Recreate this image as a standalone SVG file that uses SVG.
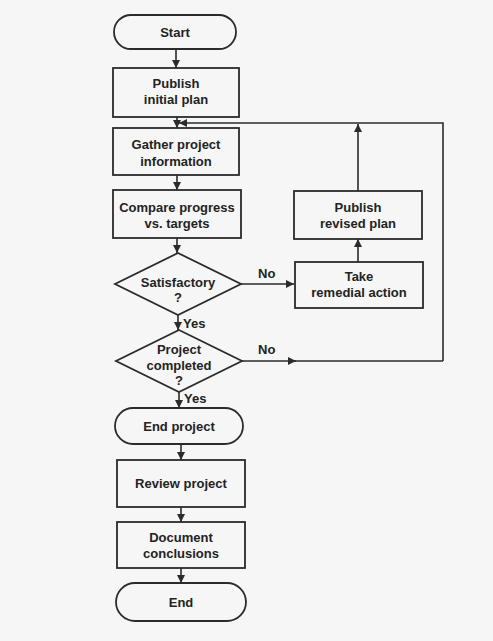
<svg xmlns="http://www.w3.org/2000/svg" width="493" height="641" viewBox="0 0 493 641">
<style>
.n{fill:none;stroke:#2b2b2b;stroke-width:1.8}
.c{fill:none;stroke:#2b2b2b;stroke-width:1.6}
.t{font-family:"Liberation Sans",Arial,sans-serif;font-weight:bold;font-size:13px;fill:#232323;text-anchor:middle}
.l{font-family:"Liberation Sans",Arial,sans-serif;font-weight:bold;font-size:13px;fill:#232323}
</style>
<defs>
<marker id="ah" viewBox="0 0 10 10" refX="10" refY="5" markerWidth="9" markerHeight="8" markerUnits="userSpaceOnUse" orient="auto">
<path d="M0,0 L10,5 L0,10 z" fill="#2b2b2b"/>
</marker>
</defs>
<rect width="493" height="641" fill="#f6f6f6"/>
<g id="connectors">
<line class="c" x1="176" y1="49" x2="176" y2="68" marker-end="url(#ah)"/>
<line class="c" x1="177" y1="117" x2="177" y2="128" marker-end="url(#ah)"/>
<line class="c" x1="177" y1="175" x2="177" y2="190" marker-end="url(#ah)"/>
<line class="c" x1="177" y1="238" x2="177" y2="253" marker-end="url(#ah)"/>
<line class="c" x1="241" y1="284" x2="294" y2="284" marker-end="url(#ah)"/>
<line class="c" x1="358" y1="262" x2="358" y2="239" marker-end="url(#ah)"/>
<line class="c" x1="358" y1="191" x2="358" y2="124" marker-end="url(#ah)"/>
<polyline class="c" points="443,361 443,123 179,123" marker-end="url(#ah)"/>
<line class="c" x1="178" y1="315" x2="178" y2="330" marker-end="url(#ah)"/>
<line class="c" x1="242" y1="361" x2="296" y2="361" marker-end="url(#ah)"/>
<line class="c" x1="294" y1="361" x2="443" y2="361"/>
<line class="c" x1="179" y1="392" x2="179" y2="408" marker-end="url(#ah)"/>
<line class="c" x1="181" y1="444" x2="181" y2="460" marker-end="url(#ah)"/>
<line class="c" x1="181" y1="507" x2="181" y2="522" marker-end="url(#ah)"/>
<line class="c" x1="181" y1="568" x2="181" y2="583" marker-end="url(#ah)"/>
<text class="l" x="258" y="278">No</text>
<text class="l" x="258" y="354">No</text>
<text class="l" x="183" y="328">Yes</text>
<text class="l" x="184" y="403">Yes</text>
</g>
<g id="start">
<rect class="n" x="114" y="15" width="122" height="34" rx="17"/>
<text class="t" x="175" y="37">Start</text>
</g>
<g id="publish-initial">
<rect class="n" x="113" y="68" width="126" height="49"/>
<text class="t" x="176" y="88">Publish</text>
<text class="t" x="176" y="104">initial plan</text>
</g>
<g id="gather">
<rect class="n" x="113" y="128" width="126" height="47"/>
<text class="t" x="176" y="149">Gather project</text>
<text class="t" x="176" y="166">information</text>
</g>
<g id="compare">
<rect class="n" x="113" y="190" width="128" height="48"/>
<text class="t" x="177" y="212">Compare progress</text>
<text class="t" x="177" y="228">vs. targets</text>
</g>
<g id="satisfactory">
<polygon class="n" points="178,253 241,284 178,315 115,284"/>
<text class="t" x="178" y="287">Satisfactory</text>
<text class="t" x="178" y="302">?</text>
</g>
<g id="remedial">
<rect class="n" x="295" y="262" width="128" height="46"/>
<text class="t" x="359" y="281">Take</text>
<text class="t" x="359" y="297">remedial action</text>
</g>
<g id="publish-revised">
<rect class="n" x="294" y="191" width="128" height="48"/>
<text class="t" x="358" y="212">Publish</text>
<text class="t" x="358" y="228">revised plan</text>
</g>
<g id="completed">
<polygon class="n" points="179,330 242,361 179,392 116,361"/>
<text class="t" x="179" y="354">Project</text>
<text class="t" x="179" y="370">completed</text>
<text class="t" x="179" y="385">?</text>
</g>
<g id="end-project">
<rect class="n" x="115" y="408" width="128" height="36" rx="18"/>
<text class="t" x="179" y="431">End project</text>
</g>
<g id="review">
<rect class="n" x="117" y="460" width="128" height="47"/>
<text class="t" x="181" y="488">Review project</text>
</g>
<g id="document">
<rect class="n" x="117" y="522" width="128" height="46"/>
<text class="t" x="181" y="542">Document</text>
<text class="t" x="181" y="558">conclusions</text>
</g>
<g id="end">
<rect class="n" x="116" y="583" width="130" height="38" rx="19"/>
<text class="t" x="181" y="607">End</text>
</g>
</svg>
